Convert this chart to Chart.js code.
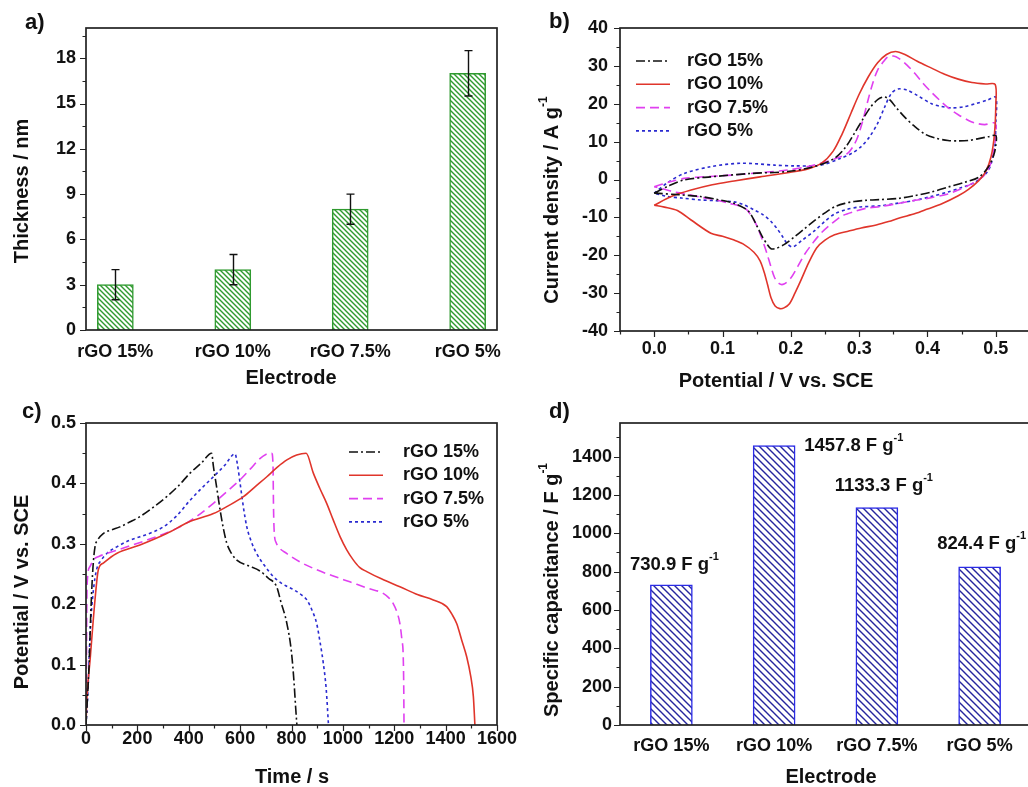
<!DOCTYPE html>
<html>
<head>
<meta charset="utf-8">
<script src="https://cdn.jsdelivr.net/npm/chart.js@4.4.0/dist/chart.umd.min.js"></script>
<style>
    html, body { margin: 0; padding: 0; background: #fff; overflow: hidden; width: 1028px; height: 787px; }
    canvas { position: absolute; }
</style>
</head>
<body>
<canvas id="chartC" style="left:0;top:390px;width:530px;height:397px" width="530" height="397"></canvas>
<canvas id="chartA" style="left:0;top:0;width:514px;height:390px" width="514" height="390"></canvas>
<canvas id="chartB" style="left:514px;top:0;width:530px;height:390px" width="530" height="390"></canvas>
<canvas id="chartD" style="left:514px;top:390px;width:530px;height:397px" width="530" height="397"></canvas>
<script>
// ---- data ----
var electrodes = ['rGO 15%', 'rGO 10%', 'rGO 7.5%', 'rGO 5%'];
var thickness = [3, 4, 8, 17];
var thicknessErr = [1, 1, 1, 1.5];
var capacitance = [730.9, 1457.8, 1133.3, 824.4];

// cyclic voltammetry, [potential V, current A/g]
var cv15 = [[0,-3.6],[0.02,-1.8],[0.044,-0.1],[0.083,0.7],[0.142,1.6],[0.195,2.1],[0.234,3.4],[0.264,5.6],[0.28,8.5],[0.293,12.2],[0.305,15.8],[0.317,19.2],[0.328,21.2],[0.337,21.8],[0.345,21],[0.355,18.8],[0.367,16.4],[0.38,14.2],[0.396,12],[0.412,10.9],[0.43,10.3],[0.445,10.2],[0.46,10.3],[0.475,10.8],[0.489,11.3],[0.5,11.6],
    [0.5,9],[0.497,6.5],[0.489,3.3],[0.475,0.6],[0.455,-0.7],[0.43,-2],[0.406,-3.3],[0.38,-4.3],[0.357,-5],[0.33,-5.3],[0.309,-5.5],[0.293,-5.8],[0.279,-6.3],[0.264,-7.2],[0.25,-8.8],[0.235,-10.8],[0.22,-13],[0.205,-15.2],[0.19,-17.2],[0.178,-18.2],[0.171,-18.3],[0.165,-17],[0.158,-15],[0.151,-12.5],[0.144,-10],[0.137,-8.2],[0.117,-6.3],[0.09,-5.2],[0.068,-4.5],[0.035,-4],[0,-3.6]];
var cv10 = [[0,-6.8],[0.025,-4.5],[0.054,-2.8],[0.085,-1.4],[0.117,-0.4],[0.155,0.7],[0.195,1.8],[0.225,2.8],[0.245,4.3],[0.262,7.5],[0.275,12],[0.288,17.5],[0.3,22.5],[0.313,27],[0.327,30.8],[0.34,33],[0.353,33.8],[0.367,33],[0.385,31.2],[0.406,29.4],[0.425,27.8],[0.445,26.5],[0.465,25.6],[0.485,25.2],[0.499,25.1],
    [0.5,20],[0.498,12],[0.493,6],[0.485,2],[0.475,-0.3],[0.46,-2.6],[0.445,-4.3],[0.421,-6.4],[0.4,-7.8],[0.382,-9],[0.36,-10.1],[0.343,-11.1],[0.325,-12],[0.303,-12.8],[0.285,-13.6],[0.264,-14.6],[0.25,-16],[0.238,-18],[0.226,-22],[0.215,-26.5],[0.206,-30],[0.198,-32.8],[0.19,-33.9],[0.184,-34.1],[0.177,-33.4],[0.171,-31.2],[0.166,-27.8],[0.161,-24.5],[0.155,-21.5],[0.146,-19.2],[0.13,-17],[0.117,-16],[0.1,-15],[0.083,-14.2],[0.054,-10.7],[0.034,-8.2],[0.015,-7.3],[0,-6.8]];
var cv75 = [[0,-1.9],[0.02,-0.8],[0.044,0.3],[0.08,0.8],[0.117,1.2],[0.155,1.8],[0.195,2.5],[0.225,3.4],[0.244,4.3],[0.265,5.5],[0.283,6.9],[0.292,9],[0.298,11.3],[0.306,16],[0.313,21],[0.32,25.5],[0.327,28.9],[0.335,31],[0.342,32.4],[0.35,32.6],[0.358,32],[0.37,30.2],[0.382,27.9],[0.394,25.3],[0.406,23],[0.418,20.9],[0.43,19],[0.445,17.1],[0.46,15.6],[0.472,14.8],[0.484,14.5],[0.499,14.9],
    [0.5,12],[0.497,7.5],[0.492,4],[0.485,1.6],[0.48,0.6],[0.465,-1.1],[0.45,-2.4],[0.43,-3.8],[0.405,-4.8],[0.382,-5.5],[0.355,-6.4],[0.333,-7.1],[0.31,-7.6],[0.294,-8.4],[0.275,-9.6],[0.26,-11.6],[0.245,-14],[0.232,-16.8],[0.22,-19.8],[0.21,-23],[0.2,-26],[0.19,-27.6],[0.183,-27.5],[0.176,-25.8],[0.17,-22.5],[0.165,-19.5],[0.158,-15.8],[0.151,-12.5],[0.142,-9.5],[0.132,-7.5],[0.108,-6.2],[0.085,-5.2],[0.069,-4.7],[0.045,-3.8],[0.03,-3.3],[0.015,-2.6],[0,-1.9]];
var cv5 = [[0,-3.6],[0.02,-0.8],[0.044,1.6],[0.083,3.4],[0.127,4.3],[0.176,3.8],[0.205,3.6],[0.244,3.8],[0.273,5.6],[0.29,7],[0.303,8.7],[0.315,11.2],[0.327,14.8],[0.337,19],[0.347,22.7],[0.357,23.9],[0.37,23.6],[0.385,22.2],[0.406,20],[0.42,19.3],[0.436,18.9],[0.453,19.2],[0.47,20],[0.488,21],[0.5,21.7],
    [0.5,15],[0.498,8],[0.489,2.4],[0.47,-0.7],[0.45,-2.1],[0.43,-3.3],[0.405,-4.5],[0.382,-5.5],[0.355,-6.3],[0.333,-6.9],[0.299,-7.3],[0.28,-8],[0.265,-9],[0.25,-11],[0.235,-13.5],[0.216,-16.1],[0.203,-17.8],[0.195,-17],[0.188,-15.1],[0.18,-13],[0.171,-11.1],[0.16,-9.4],[0.146,-8],[0.13,-6.6],[0.117,-5.9],[0.09,-5.6],[0.068,-5.4],[0.04,-4.9],[0.02,-4.5],[0,-3.6]];

// charge / discharge, [time s, potential V]
var gcd15 = [[0,0],[12,0.1],[20,0.2],[27,0.26],[35,0.295],[45,0.306],[67,0.317],[100,0.323],[132,0.328],[170,0.336],[210,0.345],[260,0.36],[314,0.378],[360,0.396],[405,0.417],[450,0.434],[489,0.45],[496,0.428],[510,0.39],[522,0.356],[535,0.325],[548,0.301],[565,0.285],[587,0.273],[630,0.264],[677,0.255],[710,0.243],[742,0.229],[758,0.205],[782,0.168],[800,0.12],[810,0.07],[816,0.03],[821,0]];
var gcd10 = [[0,0],[3,0.04],[16,0.108],[35,0.207],[48,0.257],[67,0.268],[119,0.284],[210,0.298],[314,0.317],[400,0.336],[496,0.35],[550,0.362],[613,0.378],[660,0.395],[704,0.411],[745,0.427],[782,0.439],[820,0.447],[857,0.45],[885,0.417],[910,0.392],[937,0.367],[962,0.34],[989,0.312],[1015,0.29],[1041,0.273],[1065,0.261],[1093,0.254],[1150,0.242],[1222,0.229],[1290,0.216],[1352,0.207],[1404,0.196],[1425,0.183],[1443,0.168],[1463,0.14],[1482,0.113],[1498,0.08],[1508,0.047],[1514,0]];
var gcd75 = [[0,0],[2,0.12],[4,0.23],[15,0.262],[28,0.273],[50,0.279],[81,0.284],[160,0.295],[236,0.306],[300,0.316],[366,0.328],[430,0.345],[496,0.367],[550,0.387],[600,0.406],[640,0.424],[677,0.441],[700,0.448],[723,0.45],[728,0.43],[730,0.36],[733,0.318],[740,0.302],[749,0.295],[781,0.284],[833,0.27],[898,0.257],[960,0.247],[1027,0.237],[1100,0.226],[1157,0.218],[1180,0.21],[1196,0.201],[1212,0.185],[1222,0.168],[1230,0.14],[1235,0.113],[1237,0.06],[1238,0]];
var gcd5 = [[0,0],[8,0.06],[16,0.152],[28,0.22],[41,0.257],[60,0.273],[81,0.284],[120,0.295],[171,0.306],[240,0.316],[301,0.328],[350,0.345],[405,0.372],[450,0.392],[496,0.411],[540,0.43],[580,0.449],[590,0.43],[600,0.4],[613,0.36],[626,0.328],[645,0.302],[664,0.284],[695,0.264],[729,0.246],[760,0.235],[808,0.224],[840,0.215],[860,0.207],[880,0.19],[898,0.168],[912,0.135],[924,0.102],[935,0.06],[944,0]];

// tick values
var aTicksY = [0, 3, 6, 9, 12, 15, 18];
var bTicksX = [0, 0.1, 0.2, 0.3, 0.4, 0.5];
var bTicksY = [-40, -30, -20, -10, 0, 10, 20, 30, 40];
var cTicksX = [0, 200, 400, 600, 800, 1000, 1200, 1400, 1600];
var cTicksY = [0, 0.1, 0.2, 0.3, 0.4, 0.5];
var dTicksY = [0, 200, 400, 600, 800, 1000, 1200, 1400];

// ---- styles ----
var FONT = '"Liberation Sans", Arial, Helvetica, sans-serif';
var INK = '#111';
var lineStyles = [
    { color: '#111111', dash: [9, 3, 2, 3] },
    { color: '#e0352b', dash: [] },
    { color: '#e040f0', dash: [9, 5] },
    { color: '#2a2ad0', dash: [3, 3] }
];
// label position for the capacitance values: dx, dy from bar top, alignment
var capLabelPos = [[3, -20, 'center'], [30, 0, 'left'], [7, -22, 'center'], [2, -23, 'center']];

Chart.defaults.font.family = FONT;
Chart.defaults.font.size = 18;
Chart.defaults.font.weight = 'bold';
Chart.defaults.color = INK;
Chart.defaults.animation = false;

function hatch(size, color, width) {
    var c = document.createElement('canvas');
    c.width = size; c.height = size;
    var g = c.getContext('2d');
    g.fillStyle = '#fff';
    g.fillRect(0, 0, size, size);
    g.strokeStyle = color;
    g.lineWidth = width;
    g.beginPath();
    g.moveTo(-1, -1); g.lineTo(size + 1, size + 1);
    g.moveTo(-1, size - 1); g.lineTo(1, size + 1);
    g.moveTo(size - 1, -1); g.lineTo(size + 1, 1);
    g.stroke();
    return document.createElement('canvas').getContext('2d').createPattern(c, 'repeat');
}

function drawRich(ctx, parts, x, y, size, rot, align) {
    ctx.save();
    ctx.translate(x, y);
    if (rot) ctx.rotate(rot);
    var supSize = Math.round(size * 0.58);
    var w = 0;
    parts.forEach(function(p) {
        ctx.font = 'bold ' + (p[1] ? supSize : size) + 'px ' + FONT;
        w += ctx.measureText(p[0]).width;
    });
    var cx = align === 'left' ? 0 : -w / 2;
    ctx.fillStyle = INK;
    ctx.textAlign = 'left';
    ctx.textBaseline = 'middle';
    parts.forEach(function(p) {
        ctx.font = 'bold ' + (p[1] ? supSize : size) + 'px ' + FONT;
        ctx.fillText(p[0], cx, p[1] ? -size * 0.42 : 0);
        cx += ctx.measureText(p[0]).width;
    });
    ctx.restore();
}

function drawTicks(ctx, sc, minor, major, horiz, a) {
    var start = Math.ceil(sc.min / minor - 1e-6);
    var end = Math.floor(sc.max / minor + 1e-6);
    ctx.beginPath();
    for (var i = start; i <= end; i++) {
        var v = i * minor;
        var isMajor = Math.abs(v / major - Math.round(v / major)) < 1e-6;
        var len = isMajor ? 6 : 3.5;
        var p = Math.round(sc.getPixelForValue(v)) + 0.5;
        if (horiz) {
            ctx.moveTo(p, a.bottom); ctx.lineTo(p, a.bottom + len);
        } else {
            ctx.moveTo(a.left, p); ctx.lineTo(a.left - len, p);
        }
    }
    ctx.stroke();
}

// frame, minor ticks, axis titles and panel letter
var decor = {
    id: 'decor',
    afterDraw: function(chart, args, o) {
        var ctx = chart.ctx, a = chart.chartArea;
        ctx.save();
        ctx.strokeStyle = '#222';
        ctx.setLineDash([]);
        ctx.lineWidth = 1.2;
        if (o.yMinor) drawTicks(ctx, chart.scales.y, o.yMinor, o.yMajor, false, a);
        if (o.xMinor) drawTicks(ctx, chart.scales.x, o.xMinor, o.xMajor, true, a);
        ctx.lineWidth = 1.7;
        ctx.strokeRect(a.left, a.top, a.right - a.left, a.bottom - a.top);
        ctx.fillStyle = INK;
        ctx.font = 'bold 22px ' + FONT;
        ctx.textAlign = 'left';
        ctx.textBaseline = 'middle';
        ctx.fillText(o.letter, o.letterX, o.letterY);
        ctx.restore();
        drawRich(ctx, o.xTitle, o.xTitleX, o.xTitleY, 20, 0, 'center');
        drawRich(ctx, o.yTitle, o.yTitleX, o.yTitleY, 20, -Math.PI / 2, 'center');
    }
};

var lineLegend = {
    id: 'lineLegend',
    afterDraw: function(chart, args, o) {
        var ctx = chart.ctx;
        ctx.save();
        chart.data.datasets.forEach(function(ds, i) {
            var y = o.y0 + i * o.dy;
            ctx.strokeStyle = ds.borderColor;
            ctx.lineWidth = ds.borderWidth;
            ctx.setLineDash(ds.borderDash || []);
            ctx.beginPath();
            ctx.moveTo(o.x0, y);
            ctx.lineTo(o.x1, y);
            ctx.stroke();
            ctx.setLineDash([]);
            ctx.fillStyle = INK;
            ctx.font = 'bold 18px ' + FONT;
            ctx.textAlign = 'left';
            ctx.textBaseline = 'middle';
            ctx.fillText(ds.label, o.tx, y);
        });
        ctx.restore();
    }
};

var errorBars = {
    id: 'errorBars',
    afterDatasetsDraw: function(chart) {
        var ctx = chart.ctx, xs = chart.scales.x, ys = chart.scales.y;
        ctx.save();
        ctx.strokeStyle = INK;
        ctx.lineWidth = 1.4;
        thickness.forEach(function(v, i) {
            var x = Math.round(xs.getPixelForValue(i + 1)) + 0.5;
            var t = ys.getPixelForValue(v + thicknessErr[i]);
            var b = ys.getPixelForValue(v - thicknessErr[i]);
            ctx.beginPath();
            ctx.moveTo(x, t); ctx.lineTo(x, b);
            ctx.moveTo(x - 4, t); ctx.lineTo(x + 4, t);
            ctx.moveTo(x - 4, b); ctx.lineTo(x + 4, b);
            ctx.stroke();
        });
        ctx.restore();
    }
};

var capLabels = {
    id: 'capLabels',
    afterDatasetsDraw: function(chart) {
        var meta = chart.getDatasetMeta(0);
        meta.data.forEach(function(bar, i) {
            var pos = capLabelPos[i];
            drawRich(chart.ctx, [[capacitance[i].toFixed(1) + ' F g', false], ['-1', true]],
                bar.x + pos[0], bar.y + pos[1], 18.5, 0, pos[2]);
        });
    }
};

function axis(min, max, ticks, size, pad, fmt) {
    return {
        type: 'linear',
        min: min,
        max: max,
        offset: false,
        grid: { display: false, drawTicks: false, offset: false },
        border: { display: false },
        ticks: { padding: pad, maxRotation: 0, autoSkip: false, callback: fmt },
        afterBuildTicks: function(s) {
            s.ticks = ticks.map(function(v) { return { value: v }; });
        },
        afterFit: function(s) {
            if (s.isHorizontal()) s.height = size; else s.width = size;
            s.paddingLeft = 0; s.paddingRight = 0; s.paddingTop = 0; s.paddingBottom = 0;
        }
    };
}

function curve(label, pts, i) {
    return {
        label: label,
        data: pts.map(function(p) { return { x: p[0], y: p[1] }; }),
        borderColor: lineStyles[i].color,
        borderDash: lineStyles[i].dash,
        borderWidth: 1.6,
        pointRadius: 0,
        fill: false
    };
}

function bars(values) {
    return values.map(function(v, i) { return { x: i + 1, y: v }; });
}

var nameOf = function(v) { return electrodes[v - 1]; };

// a) thickness
new Chart(document.getElementById('chartA'), {
    type: 'bar',
    data: { datasets: [{
        data: bars(thickness),
        backgroundColor: hatch(5, '#2f9a2f', 1.4),
        borderColor: '#2f9a2f',
        borderWidth: 1.5,
        barThickness: 36
    }] },
    options: {
        responsive: false,
        events: [],
        layout: { padding: { left: 0, top: 28, right: 17, bottom: 0 } },
        plugins: {
            legend: { display: false }, tooltip: { enabled: false },
            decor: { yMinor: 1.5, yMajor: 3, letter: 'a)', letterX: 25, letterY: 23,
                xTitle: [['Electrode', false]], xTitleX: 291, xTitleY: 378,
                yTitle: [['Thickness / nm', false]], yTitleX: 22, yTitleY: 191 }
        },
        scales: {
            x: axis(0.75, 4.25, [1, 2, 3, 4], 60, 11.5, nameOf),
            y: axis(0, 20, aTicksY, 86, 10, function(v) { return v; })
        }
    },
    plugins: [decor, errorBars]
});

// b) cyclic voltammetry
new Chart(document.getElementById('chartB'), {
    type: 'line',
    data: { datasets: [
        curve('rGO 15%', cv15, 0),
        curve('rGO 10%', cv10, 1),
        curve('rGO 7.5%', cv75, 2),
        curve('rGO 5%', cv5, 3)
    ] },
    options: {
        responsive: false,
        events: [],
        elements: { line: { tension: 0.3 } },
        layout: { padding: { left: 0, top: 28, right: 14, bottom: 0 } },
        plugins: {
            legend: { display: false }, tooltip: { enabled: false },
            lineLegend: { x0: 122, x1: 156, tx: 173, y0: 61, dy: 23.3 },
            decor: { xMinor: 0.05, xMajor: 0.1, yMinor: 5, yMajor: 10, letter: 'b)', letterX: 35, letterY: 22,
                xTitle: [['Potential / V vs. SCE', false]], xTitleX: 262, xTitleY: 381,
                yTitle: [['Current density / A g', false], ['-1', true]], yTitleX: 38, yTitleY: 200 }
        },
        scales: {
            x: axis(-0.05, 0.55, bTicksX, 59, 7, function(v) { return v.toFixed(1); }),
            y: axis(-40, 40, bTicksY, 106, 12, function(v) { return v; })
        }
    },
    plugins: [decor, lineLegend]
});

// c) charge / discharge
new Chart(document.getElementById('chartC'), {
    type: 'line',
    data: { datasets: [
        curve('rGO 15%', gcd15, 0),
        curve('rGO 10%', gcd10, 1),
        curve('rGO 7.5%', gcd75, 2),
        curve('rGO 5%', gcd5, 3)
    ] },
    options: {
        responsive: false,
        events: [],
        elements: { line: { cubicInterpolationMode: 'monotone' } },
        layout: { padding: { left: 0, top: 33, right: 33, bottom: 0 } },
        plugins: {
            legend: { display: false }, tooltip: { enabled: false },
            lineLegend: { x0: 349, x1: 383, tx: 403, y0: 62, dy: 23.3 },
            decor: { xMinor: 100, xMajor: 200, yMinor: 0.05, yMajor: 0.1, letter: 'c)', letterX: 22, letterY: 22,
                xTitle: [['Time / s', false]], xTitleX: 292, xTitleY: 387,
                yTitle: [['Potential / V vs. SCE', false]], yTitleX: 22, yTitleY: 202 }
        },
        scales: {
            x: axis(0, 1600, cTicksX, 62, 3, function(v) { return v; }),
            y: axis(0, 0.5, cTicksY, 86, 10, function(v) { return v.toFixed(1); })
        }
    },
    plugins: [decor, lineLegend]
});

// d) specific capacitance
new Chart(document.getElementById('chartD'), {
    type: 'bar',
    data: { datasets: [{
        data: bars(capacitance),
        backgroundColor: hatch(7, '#26269e', 1.4),
        borderColor: '#2b2be6',
        borderWidth: 1.5,
        barThickness: 42
    }] },
    options: {
        responsive: false,
        events: [],
        layout: { padding: { left: 0, top: 33, right: 13, bottom: 0 } },
        plugins: {
            legend: { display: false }, tooltip: { enabled: false },
            decor: { yMinor: 100, yMajor: 200, letter: 'd)', letterX: 35, letterY: 22,
                xTitle: [['Electrode', false]], xTitleX: 317, xTitleY: 387,
                yTitle: [['Specific capacitance / F g', false], ['-1', true]], yTitleX: 38, yTitleY: 200 }
        },
        scales: {
            x: axis(0.5, 4.5, [1, 2, 3, 4], 62, 10, nameOf),
            y: axis(0, 1575, dTicksY, 106, 8, function(v) { return v; })
        }
    },
    plugins: [decor, capLabels]
});
</script>
</body>
</html>
